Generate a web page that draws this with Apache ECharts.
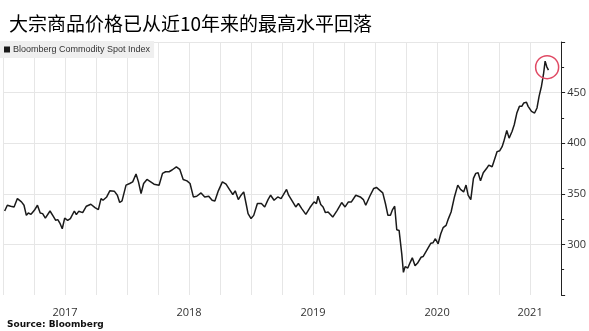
<!DOCTYPE html>
<html>
<head>
<meta charset="utf-8">
<script src="https://cdn.jsdelivr.net/npm/echarts@6/dist/echarts.min.js"></script>
<style>html,body{margin:0;padding:0;background:#fff;}#c{width:589px;height:331px;}</style>
</head>
<body>
<div id="c"></div>
<script>
const titleText = '大宗商品价格已从近10年来的最高水平回落';
const seriesName = 'Bloomberg Commodity Spot Index';
const sourceText = 'Source: Bloomberg';

const dates = [
'2017-01-06','2017-01-14','2017-01-24','2017-02-03','2017-02-12','2017-02-23','2017-03-02','2017-03-09','2017-03-15','2017-03-23',
'2017-04-02','2017-04-11','2017-04-19','2017-04-26','2017-05-04','2017-05-18','2017-05-28','2017-06-04','2017-06-10','2017-06-16',
'2017-06-23','2017-06-30','2017-07-09','2017-07-17','2017-07-29','2017-08-04','2017-08-11','2017-08-23','2017-09-03','2017-09-16',
'2017-09-28','2017-10-08','2017-10-16','2017-10-22','2017-11-02','2017-11-11','2017-11-24','2017-12-03','2017-12-10','2017-12-17',
'2017-12-29','2018-01-09','2018-01-18','2018-01-28','2018-02-04','2018-02-11','2018-02-18','2018-02-27','2018-03-10','2018-03-20',
'2018-04-04','2018-04-14','2018-04-23','2018-05-03','2018-05-12','2018-05-25','2018-06-04','2018-06-14','2018-06-25','2018-07-04',
'2018-07-14','2018-07-24','2018-08-06','2018-08-17','2018-08-29','2018-09-08','2018-09-16','2018-09-26','2018-10-08','2018-10-19',
'2018-10-29','2018-11-08','2018-11-15','2018-11-24','2018-12-02','2018-12-10','2018-12-17','2018-12-23','2019-01-01','2019-01-09',
'2019-01-20','2019-02-01','2019-02-10','2019-02-19','2019-02-26','2019-03-08','2019-03-19','2019-03-29','2019-04-14','2019-04-20',
'2019-05-02','2019-05-11','2019-05-19','2019-05-29','2019-06-10','2019-06-22','2019-07-04','2019-07-11','2019-07-16','2019-07-24',
'2019-07-31','2019-08-07','2019-08-15','2019-08-29','2019-09-11','2019-09-24','2019-10-04','2019-10-14','2019-10-23','2019-11-05',
'2019-11-18','2019-11-27','2019-12-04','2019-12-16','2019-12-28','2020-01-05','2020-01-17','2020-01-24','2020-02-01','2020-02-08',
'2020-02-15','2020-02-21','2020-02-27','2020-03-04','2020-03-11','2020-03-19','2020-03-24','2020-03-29','2020-04-06','2020-04-13',
'2020-04-19','2020-04-27','2020-05-04','2020-05-15','2020-05-21','2020-06-05','2020-06-13','2020-06-19','2020-06-26','2020-07-04',
'2020-07-12','2020-07-19','2020-07-28','2020-08-04','2020-08-12','2020-08-22','2020-09-01','2020-09-09','2020-09-18','2020-09-25',
'2020-10-01','2020-10-09','2020-10-17','2020-10-24','2020-10-31','2020-11-07','2020-11-15','2020-11-25','2020-12-01','2020-12-11',
'2020-12-16','2020-12-26','2021-01-03','2021-01-10','2021-01-15','2021-01-24','2021-01-31','2021-02-08','2021-02-14','2021-02-21',
'2021-02-28','2021-03-07','2021-03-13','2021-03-21','2021-03-26','2021-04-05','2021-04-14','2021-04-21','2021-04-27','2021-05-04',
'2021-05-10','2021-05-15','2021-05-20','2021-05-25'
];

const values = [
333.0,338.7,337.7,337.0,345.3,342.0,338.7,328.7,331.0,329.7,
333.7,338.7,331.0,330.4,326.0,333.0,327.7,323.8,324.5,321.1,
315.5,326.0,323.8,325.5,333.0,329.4,332.7,331.4,337.7,339.7,
336.4,334.4,345.3,343.6,346.9,352.9,352.6,348.6,341.4,343.0,
358.6,360.2,361.8,369.5,361.8,350.3,360.2,364.2,361.8,359.5,
358.5,370.2,371.8,371.8,373.5,376.7,374.2,364.2,362.8,360.2,
346.9,347.6,350.9,346.9,347.6,343.6,342.9,352.9,361.8,359.5,
354.3,349.3,352.9,344.3,348.6,351.9,340.4,330.4,325.5,328.7,
340.4,340.4,337.0,344.3,348.6,343.6,346.9,345.3,354.3,348.6,
342.0,337.0,340.4,335.4,329.7,336.4,342.0,340.4,347.6,339.4,
337.0,331.4,332.0,327.0,333.7,341.4,337.0,342.0,342.0,348.6,
346.9,344.3,338.7,347.6,355.3,356.3,352.9,350.9,340.4,328.7,
328.7,334.4,337.7,314.5,313.8,290.7,272.4,278.0,276.7,282.3,
286.7,279.0,281.3,287.3,288.0,296.6,301.2,301.6,305.6,300.6,
310.5,316.5,318.8,325.5,332.0,346.9,358.6,354.3,351.9,358.6,
348.6,344.3,365.2,370.2,370.8,362.8,370.8,375.2,378.4,376.7,
381.7,391.7,392.6,396.6,401.6,412.5,405.0,411.5,418.2,429.8,
436.4,436.4,439.8,440.4,436.4,431.4,429.8,434.8,446.3,456.3,
467.9,481.1,475.5,472.2
];

// x axis: months since Jan 2017; year labels placed mid-year (2021 mid of visible part)
const xTickPositions = [6, 18, 30, 42, 51];
const xTickLabels = ['2017', '2018', '2019', '2020', '2021'];

function toMonth(s) {
  const p = s.split('-').map(Number);
  const dim = new Date(Date.UTC(p[0], p[1], 0)).getUTCDate();
  return (p[0] - 2017) * 12 + (p[1] - 1) + (p[2] - 1) / dim;
}

const lineData = dates.map((d, i) => [toMonth(d), values[i]]);

const chart = echarts.init(document.getElementById('c'), null, {renderer: 'canvas'});
chart.setOption({
  animation: false,
  backgroundColor: '#ffffff',
  title: [
    {
      text: titleText, left: 4, top: 9,
      textStyle: {fontFamily: 'Noto Sans CJK SC', fontSize: 19, fontWeight: 'normal', color: '#000'}
    },
    {
      text: sourceText, left: 2, top: 315,
      textStyle: {fontFamily: 'DejaVu Sans', fontSize: 9, fontWeight: 'bold', color: '#111'}
    }
  ],
  legend: {
    show: true, left: 0, top: 41,
    data: [seriesName],
    icon: 'rect', itemWidth: 6, itemHeight: 6, itemGap: 4,
    backgroundColor: '#efefef',
    padding: [4, 4, 4, 4],
    textStyle: {fontFamily: 'Liberation Sans', fontSize: 9, color: '#333', padding: [0, 0, 0, -2]},
    selectedMode: false
  },
  grid: {left: -2, right: 24, top: 42, bottom: 36, containLabel: false},
  xAxis: {
    type: 'value', min: 0, max: 54, interval: 3,
    axisLine: {show: false, onZero: false}, axisTick: {show: false},
    splitLine: {show: true, lineStyle: {color: '#e6e6e6', width: 1}},
    axisLabel: {
      margin: 12, color: '#333', fontFamily: 'Open Sans', fontSize: 11,
      formatter: function (v) {
        const i = xTickPositions.indexOf(Math.round(v));
        return i >= 0 ? xTickLabels[i] : '';
      }
    }
  },
  yAxis: {
    type: 'value', position: 'right', min: 250, max: 500, interval: 50,
    axisLine: {show: true, onZero: false, lineStyle: {color: '#222', width: 1}},
    axisTick: {show: true, inside: false, length: 4, lineStyle: {color: '#222'}},
    minorTick: {show: true, splitNumber: 2, length: 3, lineStyle: {color: '#222'}},
    splitLine: {show: true, showMinLine: false, lineStyle: {color: '#e6e6e6', width: 1}},
    axisLabel: {
      show: true, margin: 6, color: '#333', fontFamily: 'Open Sans', fontSize: 11,
      showMinLabel: false, showMaxLabel: false
    }
  },
  series: [{
    name: seriesName,
    type: 'line',
    data: lineData,
    showSymbol: false,
    symbol: 'none',
    itemStyle: {color: '#1a1a1a'},
    lineStyle: {color: '#1a1a1a', width: 1.5},
    markPoint: {
      symbol: 'circle', symbolSize: 23, symbolOffset: [2, 6],
      itemStyle: {color: 'rgba(0,0,0,0)', borderColor: '#e04a64', borderWidth: 1.5},
      label: {show: false},
      data: [{type: 'max'}]
    }
  }]
});
</script>
</body>
</html>
